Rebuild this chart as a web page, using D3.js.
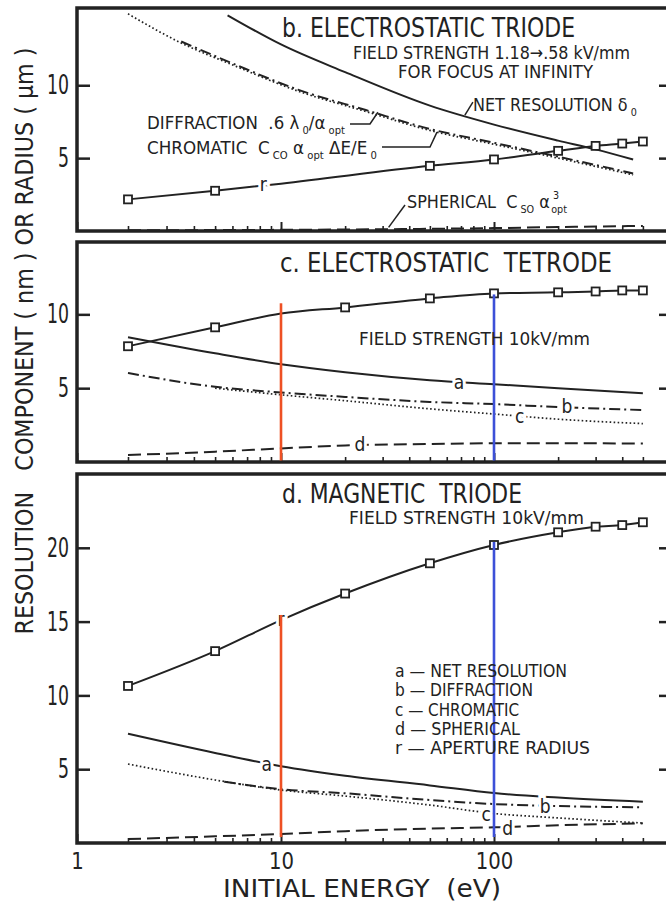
<!DOCTYPE html>
<html>
<head>
<meta charset="utf-8">
<script src="https://cdn.jsdelivr.net/npm/d3@7"></script>
<style>
  body { margin: 0; background: #fff; }
  svg text {
    font-family: "Liberation Sans Narrow", "DejaVu Sans Condensed", "Roboto Condensed", "Liberation Sans", sans-serif;
    fill: #222;
    white-space: pre;
  }
</style>
</head>
<body>
<svg class="chart" width="666" height="902"></svg>
<script>
// ---- data (energy in eV, values in nm / µm) ----

// b. electrostatic triode
const bNetE = [5.7, 10, 20, 50, 100, 200, 300, 450];
const bNet = [14.8, 12.8, 10.9, 8.6, 7.3, 6.2, 5.6, 4.9];
const bDiffE = [3.5, 6, 12, 25, 50, 100, 200, 450];
const bDiff = [13.0, 11.5, 9.7, 8.3, 7.0, 6.05, 5.1, 3.95];
const bChromE = [2, 3.5, 6, 12, 25, 50, 100, 200, 450];
const bChrom = [14.9, 12.9, 11.4, 9.6, 8.2, 6.9, 5.95, 5.0, 3.85];
const bSphE = [2, 10, 50, 100, 200, 500];
const bSph = [0.05, 0.08, 0.15, 0.2, 0.27, 0.35];
const bRadE = [2, 5, 10, 50, 100, 200, 300, 400, 500];
const bRad = [2.17, 2.76, 3.25, 4.47, 4.91, 5.5, 5.84, 6.0, 6.14];

// c. electrostatic tetrode
const cE = [2, 5, 10, 20, 50, 100, 200, 500];
const cNet = [8.45, 7.36, 6.62, 6.08, 5.54, 5.27, 5.0, 4.66];
const cDiff = [6.03, 5.09, 4.71, 4.41, 4.07, 3.92, 3.72, 3.52];
const cChromE = [5, 10, 20, 50, 100, 200, 500];
const cChrom = [5.0, 4.55, 4.15, 3.6, 3.25, 2.9, 2.6];
const cSph = [0.47, 0.7, 0.92, 1.12, 1.22, 1.27, 1.27, 1.25];
const cRadE = [2, 5, 10, 20, 50, 100, 200, 300, 400, 500];
const cRad = [7.84, 9.12, 10.05, 10.47, 11.08, 11.42, 11.49, 11.55, 11.62, 11.62];

// d. magnetic triode
const dE = [2, 5, 10, 20, 50, 100, 200, 500];
const dNet = [7.4, 6.1, 5.2, 4.55, 3.9, 3.38, 3.08, 2.8];
const dDiffE = [5.5, 10, 20, 50, 100, 200, 500];
const dDiff = [4.15, 3.64, 3.37, 2.91, 2.64, 2.5, 2.42];
const dChrom = [5.35, 4.27, 3.59, 3.18, 2.57, 2.0, 1.7, 1.35];
const dSph = [0.27, 0.45, 0.61, 0.8, 0.98, 1.06, 1.2, 1.33];
const dRadE = [2, 5, 10, 20, 50, 100, 200, 300, 400, 500];
const dRad = [10.64, 13.0, 15.1, 16.9, 18.95, 20.19, 21.05, 21.43, 21.54, 21.73];

// red / blue marker lines at 10 and 100 eV (panels c and d)
const markE = [10, 100];
const markColors = ['#ee5024', '#3d50d8'];
const cMarkTop = [10.75, 11.35];
const dMarkTop = [15.45, 20.4];

// axis ticks
const xMajor = [1, 10, 100];
const xMinor = [2, 3, 4, 5, 6, 7, 8, 9, 20, 30, 40, 50, 60, 70, 80, 90, 200, 300, 400, 500];

const legendItems = ['a \u2014 NET RESOLUTION', 'b \u2014 DIFFRACTION', 'c \u2014 CHROMATIC',
    'd \u2014 SPHERICAL', 'r \u2014 APERTURE RADIUS'];
const legendWidths = [172, 138, 124, 125, 195];

// ---- layout ----
const svg = d3.select('.chart');
const ink = '#222';
const frameLeft = 77;
const frameRight = 672;

// hand drawn log axis: slightly compressed first decade
const x = d3.scaleLog()
    .domain([1, 2, 10, 100, 1000])
    .range([77, 128, 281, 494, 707]);

const panels = [
    { top: 8, bottom: 231, ymax: 15.3, yticks: [5, 10] },
    { top: 242, bottom: 462, ymax: 14.9, yticks: [5, 10] },
    { top: 474, bottom: 843, ymax: 25, yticks: [5, 10, 15, 20] }
];
panels.forEach(p => {
    p.y = d3.scaleLinear().domain([0, p.ymax]).range([p.bottom, p.top]);
});

const zip = (es, vs) => es.map((e, i) => [e, vs[i]]);

const series = [
    { p: 0, kind: 'chrom', pts: zip(bChromE, bChrom) },
    { p: 0, kind: 'diff', pts: zip(bDiffE, bDiff) },
    { p: 0, kind: 'net', pts: zip(bNetE, bNet) },
    { p: 0, kind: 'sph', pts: zip(bSphE, bSph) },
    { p: 0, kind: 'rad', pts: zip(bRadE, bRad) },
    { p: 1, kind: 'net', pts: zip(cE, cNet) },
    { p: 1, kind: 'diff', pts: zip(cE, cDiff) },
    { p: 1, kind: 'chrom', pts: zip(cChromE, cChrom) },
    { p: 1, kind: 'sph', pts: zip(cE, cSph) },
    { p: 1, kind: 'rad', pts: zip(cRadE, cRad) },
    { p: 2, kind: 'net', pts: zip(dE, dNet) },
    { p: 2, kind: 'diff', pts: zip(dDiffE, dDiff) },
    { p: 2, kind: 'chrom', pts: zip(dE, dChrom) },
    { p: 2, kind: 'sph', pts: zip(dE, dSph) },
    { p: 2, kind: 'rad', pts: zip(dRadE, dRad) }
];

const styles = {
    net: { dash: null, width: 2 },
    rad: { dash: null, width: 2 },
    diff: { dash: '11,4,2,4', width: 2 },
    chrom: { dash: '1.6,2.4', width: 1.7 },
    sph: { dash: '13,6', width: 2 }
};

// frames
svg.append('g')
    .selectAll('rect')
    .data(panels)
    .join('rect')
    .attr('x', frameLeft)
    .attr('y', d => d.top)
    .attr('width', frameRight - frameLeft)
    .attr('height', d => d.bottom - d.top)
    .attr('fill', '#fff')
    .attr('stroke', ink)
    .attr('stroke-width', 3.5);

// curves
const curves = svg.append('g').attr('fill', 'none');
series.forEach(s => {
    const y = panels[s.p].y;
    const line = d3.line()
        .x(d => x(d[0]))
        .y(d => y(d[1]))
        .curve(d3.curveMonotoneX);
    curves.append('path')
        .datum(s.pts)
        .attr('d', line)
        .attr('stroke', ink)
        .attr('stroke-width', styles[s.kind].width)
        .attr('stroke-dasharray', styles[s.kind].dash);
});

// aperture radius markers (none at 10 eV, the label sits there)
series.filter(s => s.kind === 'rad').forEach(s => {
    const y = panels[s.p].y;
    svg.append('g')
        .selectAll('rect')
        .data(s.pts.filter(d => d[0] !== 10))
        .join('rect')
        .attr('x', d => x(d[0]) - 4)
        .attr('y', d => y(d[1]) - 4)
        .attr('width', 8)
        .attr('height', 8)
        .attr('fill', '#fff')
        .attr('stroke', ink)
        .attr('stroke-width', 1.8);
});

// letters sitting on the curves
const curveLabels = [
    { p: 0, t: 'r', e: 8.3, v: 3.15 },
    { p: 1, t: 'a', e: 68.5, v: 5.34 },
    { p: 1, t: 'b', e: 220, v: 3.72 },
    { p: 1, t: 'c', e: 132, v: 3.06 },
    { p: 1, t: 'd', e: 23.5, v: 1.15 },
    { p: 2, t: 'r', e: 10, v: 15.1 },
    { p: 2, t: 'a', e: 8.6, v: 5.3 },
    { p: 2, t: 'b', e: 174, v: 2.44 },
    { p: 2, t: 'c', e: 92, v: 1.9 },
    { p: 2, t: 'd', e: 116, v: 0.95 }
];
svg.append('g')
    .selectAll('text')
    .data(curveLabels)
    .join('text')
    .attr('x', d => x(d.e))
    .attr('y', d => panels[d.p].y(d.v))
    .attr('dy', '0.32em')
    .attr('text-anchor', 'middle')
    .style('font-size', '19px')
    .attr('stroke', '#fff')
    .attr('stroke-width', 6)
    .attr('paint-order', 'stroke')
    .text(d => d.t);

// narrow the wide fallback digits to the drawn width
const digitW = (w) => (d) => String(d).length * w;

// axes
panels.forEach((p, i) => {
    const gl = svg.append('g')
        .attr('transform', `translate(${frameLeft},0)`)
        .call(d3.axisLeft(p.y).tickValues(p.yticks).tickSize(-13).tickPadding(8));
    gl.select('.domain').remove();
    gl.selectAll('line').attr('stroke', ink).attr('stroke-width', 2.5);
    gl.selectAll('text')
        .style('font-size', '27px')
        .attr('fill', ink)
        .attr('textLength', digitW(11))
        .attr('lengthAdjust', 'spacingAndGlyphs');

    const gr = svg.append('g')
        .attr('transform', `translate(${frameRight},0)`)
        .call(d3.axisRight(p.y).tickValues(p.yticks).tickSize(-13).tickFormat(''));
    gr.select('.domain').remove();
    gr.selectAll('line').attr('stroke', ink).attr('stroke-width', 2.5);

    const gmaj = svg.append('g')
        .attr('transform', `translate(0,${p.bottom})`)
        .call(d3.axisBottom(x).tickValues(xMajor).tickSize(-9).tickPadding(10)
            .tickFormat(i === 2 ? d3.format('d') : ''));
    gmaj.select('.domain').remove();
    gmaj.selectAll('line').attr('stroke', ink).attr('stroke-width', 2);
    gmaj.selectAll('text')
        .style('font-size', '23px')
        .attr('fill', ink)
        .attr('textLength', digitW(12.5))
        .attr('lengthAdjust', 'spacingAndGlyphs');

    const gmin = svg.append('g')
        .attr('transform', `translate(0,${p.bottom})`)
        .call(d3.axisBottom(x).tickValues(xMinor).tickSize(-5).tickFormat(''));
    gmin.select('.domain').remove();
    gmin.selectAll('line').attr('stroke', ink).attr('stroke-width', 1.6);
});

// coloured marker lines
[[panels[1], cMarkTop, 0.1], [panels[2], dMarkTop, 0.4]].forEach(([p, tops, low]) => {
    svg.append('g')
        .selectAll('line')
        .data(markE)
        .join('line')
        .attr('x1', d => x(d))
        .attr('x2', d => x(d))
        .attr('y1', (d, i) => p.y(tops[i]))
        .attr('y2', p.y(low))
        .attr('stroke', (d, i) => markColors[i])
        .attr('stroke-width', 2.6);
});

// ---- text ----
function plain(xp, yp, str, size, len) {
    const t = svg.append('text')
        .attr('x', xp)
        .attr('y', yp)
        .style('font-size', size + 'px')
        .text(str);
    if (len) t.attr('textLength', len).attr('lengthAdjust', 'spacingAndGlyphs');
    return t;
}

// parts: [string, 'sub' | 'sup' | '', dx]
// textLength is ignored with nested tspans, so squeeze horizontally instead
function rich(xp, yp, parts, size, len) {
    const t = svg.append('text')
        .attr('x', xp)
        .attr('y', yp)
        .style('font-size', size + 'px');
    let shift = 0;
    parts.forEach(([s, kind, dx]) => {
        const target = kind === 'sub' ? size * 0.26 : kind === 'sup' ? -size * 0.5 : 0;
        const ts = t.append('tspan').text(s).attr('dy', target - shift);
        if (kind) ts.style('font-size', (size * 0.6) + 'px');
        if (dx) ts.attr('dx', dx);
        shift = target;
    });
    const w = t.node().getComputedTextLength();
    if (len && w > 0) {
        t.attr('transform', `translate(${xp},0) scale(${len / w},1) translate(${-xp},0)`);
    }
    return t;
}

// panel titles
plain(282, 37, 'b. ELECTROSTATIC TRIODE', 26, 293);
plain(353, 59, 'FIELD STRENGTH 1.18\u2192.58 kV/mm', 18, 277);
plain(398, 78, 'FOR FOCUS AT INFINITY', 18, 195);
plain(280, 272, 'c. ELECTROSTATIC  TETRODE', 26, 332);
plain(359, 345, 'FIELD STRENGTH 10kV/mm', 18, 231);
plain(282, 503, 'd. MAGNETIC  TRIODE', 26, 240);
plain(349, 524, 'FIELD STRENGTH 10kV/mm', 18, 235);

// panel b curve annotations
rich(473, 111, [['NET RESOLUTION \u03b4', ''], [' 0', 'sub']], 18, 164);
rich(147, 129, [['DIFFRACTION  .6 \u03bb', ''], [' 0', 'sub'], ['/\u03b1', ''], [' opt', 'sub']], 18, 198);
rich(147, 154, [['CHROMATIC  C', ''], [' CO', 'sub'], [' \u03b1', ''], [' opt', 'sub'], [' \u0394E/E', ''], [' 0', 'sub']], 18, 230);
rich(407, 208, [['SPHERICAL  C', ''], [' SO', 'sub'], [' \u03b1', ''], [' 3', 'sup'], ['opt', 'sub', -8]], 18, 168);

// leader lines from annotations to curves
const yb = panels[0].y;
const leaders = [
    [[x(73) + 8, yb(7.95) - 13], [x(73), yb(7.95)]],
    [[350, 124], [370, 124], [x(28.5), yb(8.15)]],
    [[382, 147], [430, 147], [x(54), yb(6.78)]],
    [[x(32), yb(0.25)], [405, 205]]
];
svg.append('g')
    .selectAll('path')
    .data(leaders)
    .join('path')
    .attr('d', d3.line())
    .attr('fill', 'none')
    .attr('stroke', ink)
    .attr('stroke-width', 1.5);

// legend in panel d
svg.append('g')
    .selectAll('text')
    .data(legendItems)
    .join('text')
    .attr('x', 395)
    .attr('y', (d, i) => 677 + i * 19.3)
    .style('font-size', '18px')
    .attr('textLength', (d, i) => legendWidths[i])
    .attr('lengthAdjust', 'spacingAndGlyphs')
    .text(d => d);

// axis titles
plain(223, 897, 'INITIAL ENERGY  (eV)', 24, 278);
svg.append('text')
    .attr('transform', 'translate(33,341) rotate(-90)')
    .attr('text-anchor', 'middle')
    .style('font-size', '25px')
    .attr('textLength', 587)
    .attr('lengthAdjust', 'spacingAndGlyphs')
    .text('RESOLUTION   COMPONENT ( nm ) OR RADIUS ( \u00b5m )');
</script>
</body>
</html>
